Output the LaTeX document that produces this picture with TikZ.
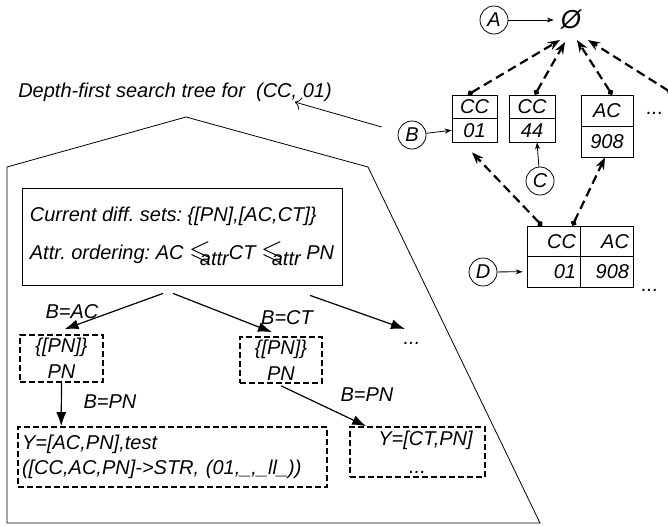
\documentclass[tikz,border=0pt]{standalone}
\usepackage{amssymb}
\usepackage{graphicx}
\usepackage{fontspec}
\setmainfont{Liberation Sans}
\usetikzlibrary{arrows.meta}
\frenchspacing

\tikzset{
  tag/.style={circle, draw, line width=0.4pt, inner sep=0pt, minimum size=14pt},
  cell/.style={draw, line width=0.4pt, inner sep=0pt},
  dcell/.style={draw, line width=0.4pt, inner sep=2pt, text width=22.5pt, align=right, minimum height=15.25pt},
  setbox/.style={draw, dashed, line width=0.8pt, dash pattern=on 3pt off 1.5pt, align=center, inner sep=0pt},
  thin arrow/.style={line width=0.4pt, -{Stealth[length=3.5pt,width=2.5pt]}},
  tree arrow/.style={line width=0.6pt, -{Latex[length=7pt,width=5pt]}},
  link/.style={line width=1.1pt, dash pattern=on 4.5pt off 2.5pt, {Circle[length=2.8pt]}-{Stealth[length=6pt,width=4.5pt]}}
}
\newcommand{\attrle}{$\mathrel{\scalebox{1.4}{$\leqslant$}\kern-5.5pt\raisebox{-0.55ex}{$\scriptstyle\textit{attr}$}}$}

\begin{document}
\begin{tikzpicture}[x=0.5pt, y=-0.5pt, font=\fontsize{10}{13}\selectfont\itshape]
\useasboundingbox (0,0) rectangle (668,525);

% lattice of values
\node[tag] (A) at (494,20) {A};
\node[font=\fontsize{13}{13}\selectfont\itshape] (empty) at (571,20) {Ø};
\draw[thin arrow] (A) -- (empty);

\node[cell, minimum width=22.5pt, minimum height=11.75pt] (c1top) at (474.5,106.75) {CC};
\node[cell, minimum width=22.5pt, minimum height=11.75pt] (c1bot) at (474.5,130.25) {01};
\node[cell, minimum width=23pt, minimum height=11.75pt] (c2top) at (532,106.75) {CC};
\node[cell, minimum width=23pt, minimum height=11.75pt] (c2bot) at (532,130.25) {44};
\node[cell, minimum width=26pt, minimum height=15.5pt] (c3top) at (607,110.5) {AC};
\node[cell, minimum width=26pt, minimum height=15.5pt] (c3bot) at (607,141.5) {908};
\node (dots1) at (655,113) {...};
\coordinate (offright) at (672,93);

\draw[link] ([xshift=-3.25pt]c1top.north) -- ([xshift=-5.5pt,yshift=-10pt]empty.center);
\draw[link] ([xshift=1.5pt]c2top.north) -- ([xshift=-3pt,yshift=-11pt]empty.center);
\draw[link] ([xshift=2.5pt]c3top.north) -- ([xshift=3pt,yshift=-10pt]empty.center);
\draw[link] (offright) -- ([xshift=8.5pt,yshift=-10pt]empty.center);

\node[tag] (B) at (412,135) {B};
\draw[thin arrow] (B) -- (c1bot.west);
\node[tag] (C) at (540,181) {C};
\draw[thin arrow] (C) -- ([xshift=2.5pt]c2bot.south);

\node[dcell] (d11) at (553.5,241.25) {CC};
\node[dcell] (d12) at (606.5,241.25) {AC};
\node[dcell] (d21) at (553.5,271.75) {01};
\node[dcell] (d22) at (606.5,271.75) {908};
\node (dots2) at (650,290) {...};
\node[tag] (D) at (483,272) {D};
\draw[thin arrow] (D) -- ([xshift=-2pt]d21.west);

\draw[link] ([xshift=-5.75pt]d11.north) -- ([xshift=-1.25pt,yshift=-5pt]c1bot.south);
\draw[link] ([xshift=-4pt]d11.north east) -- ([xshift=-1pt]c3bot.south);

% search tree for (CC, 01)
\node (title) at (175,92) {Depth-first search tree for\ \ (CC, 01)};
\draw[line width=0.4pt, -{To[length=3pt]}] ([xshift=-8pt,yshift=4pt]B.west) -- ([xshift=-22pt,yshift=-5pt]title.east);
\draw[line width=0.4pt] (7,167) -- (186,117) -- (368,167) -- (540,523) -- (7,523) -- cycle;

\node[draw, line width=0.4pt, minimum width=160pt, minimum height=48.5pt, inner xsep=2pt, align=left] (info) at (182,236.5)
  {Current diff. sets: \{[PN],[AC,CT]\}\\[6pt]
   Attr. ordering: AC \attrle CT \attrle\ PN};

\node[setbox, minimum width=41.5pt, minimum height=23.5pt] (set1) at (61.5,358.5) {\{[PN]\}\\PN};
\node[setbox, minimum width=41pt, minimum height=23pt] (set2) at (281,360) {\{[PN]\}\\PN};
\node (dots3) at (412,343) {...};

\draw[tree arrow] ([xshift=-9.5pt,yshift=-4pt]info.south) -- ([xshift=1.5pt,yshift=2.5pt]set1.north);
\draw[tree arrow] ([xshift=-4.5pt,yshift=-4pt]info.south) -- ([xshift=-4.5pt,yshift=2pt]set2.north);
\draw[tree arrow] ([xshift=64pt,yshift=-5pt]info.south) -- ([xshift=-3.5pt,yshift=7pt]dots3.center);
\node (lAC) at (72,312) {B=AC};
\node (lCT) at (287,318) {B=CT};

\node[setbox, minimum width=154.5pt, minimum height=30pt, text width=150.5pt, inner xsep=2pt, align=left] (leaf1) at (172.5,457)
  {Y=[AC,PN],test\\[-0.5pt]([CC,AC,PN]->STR, (01,\_,\_ll\_))};
\node[setbox, minimum width=67.5pt, minimum height=25pt] (leaf2) at (417.5,452)
  {\hspace*{8pt}Y=[CT,PN]\\[1pt]...};

\draw[tree arrow] (set1.south) -- ([xshift=22pt]leaf1.north west);
\draw[tree arrow] ([yshift=-1pt]set2.south) -- ([xshift=8.5pt]leaf2.north west);
\node (lPN1) at (110,402) {B=PN};
\node (lPN2) at (367,395) {B=PN};
\end{tikzpicture}
\end{document}
